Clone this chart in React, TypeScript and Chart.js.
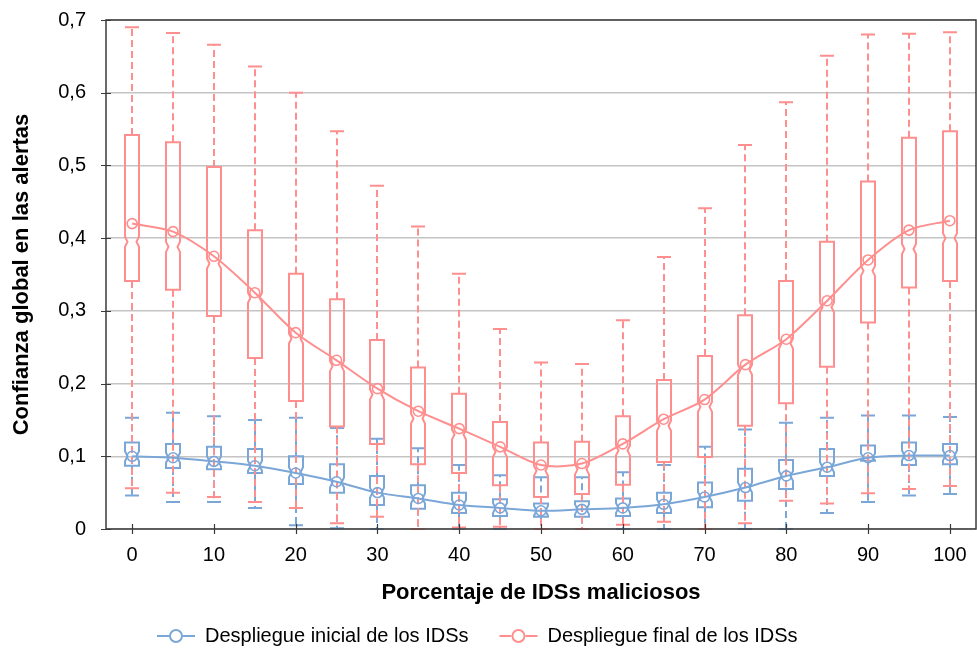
import { useEffect, useRef } from "react";
import { Chart, registerables } from "chart.js";

Chart.register(...registerables);

// ---------- data ----------
const categories = [0, 5, 10, 15, 20, 25, 30, 35, 40, 45, 50, 55, 60, 65, 70, 75, 80, 85, 90, 95, 100];
const xTickValues = [0, 10, 20, 30, 40, 50, 60, 70, 80, 90, 100];
const xTickLabels = ["0", "10", "20", "30", "40", "50", "60", "70", "80", "90", "100"];
const yTickValues = [0, 0.1, 0.2, 0.3, 0.4, 0.5, 0.6, 0.7];
const yTickLabels = ["0", "0,1", "0,2", "0,3", "0,4", "0,5", "0,6", "0,7"];

const seriesLabels = ["Despliegue inicial de los IDSs", "Despliegue final de los IDSs"];
const xTitle = "Porcentaje de IDSs maliciosos";
const yTitle = "Confianza global en las alertas";

// Despliegue inicial (blue)
const initialMax = [0.153, 0.160, 0.155, 0.150, 0.153, 0.139, 0.124, 0.111, 0.088, 0.074, 0.071, 0.071, 0.078, 0.088, 0.113, 0.137, 0.146, 0.153, 0.156, 0.156, 0.154];
const initialQ3 = [0.119, 0.117, 0.113, 0.110, 0.100, 0.089, 0.073, 0.060, 0.050, 0.041, 0.035, 0.038, 0.042, 0.050, 0.064, 0.083, 0.095, 0.110, 0.115, 0.119, 0.117];
const initialMedian = [0.100, 0.098, 0.093, 0.087, 0.078, 0.064, 0.050, 0.042, 0.033, 0.029, 0.025, 0.027, 0.029, 0.034, 0.044, 0.057, 0.073, 0.085, 0.099, 0.101, 0.101];
const initialQ1 = [0.087, 0.084, 0.082, 0.077, 0.062, 0.050, 0.033, 0.028, 0.022, 0.018, 0.017, 0.017, 0.018, 0.022, 0.030, 0.039, 0.055, 0.073, 0.094, 0.088, 0.089];
const initialMin = [0.046, 0.037, 0.037, 0.029, 0.005, 0.001, 0.000, 0.000, 0.000, 0.000, 0.000, 0.000, 0.000, 0.000, 0.000, 0.000, 0.000, 0.022, 0.037, 0.046, 0.048];
const initialMean = [0.100, 0.098, 0.093, 0.087, 0.077, 0.065, 0.050, 0.042, 0.033, 0.029, 0.025, 0.027, 0.029, 0.034, 0.044, 0.057, 0.073, 0.085, 0.098, 0.101, 0.101];

// Despliegue final (red)
const finalMax = [0.690, 0.682, 0.666, 0.636, 0.600, 0.547, 0.472, 0.416, 0.351, 0.275, 0.229, 0.227, 0.287, 0.374, 0.441, 0.528, 0.587, 0.651, 0.680, 0.681, 0.683];
const finalQ3 = [0.542, 0.532, 0.498, 0.411, 0.351, 0.316, 0.260, 0.222, 0.186, 0.147, 0.119, 0.120, 0.155, 0.205, 0.238, 0.294, 0.341, 0.395, 0.478, 0.538, 0.547];
const finalMedian = [0.395, 0.388, 0.365, 0.318, 0.262, 0.224, 0.185, 0.152, 0.130, 0.106, 0.080, 0.082, 0.108, 0.142, 0.168, 0.219, 0.255, 0.305, 0.355, 0.385, 0.400];
const finalQ1 = [0.341, 0.329, 0.293, 0.235, 0.176, 0.141, 0.117, 0.089, 0.077, 0.060, 0.044, 0.048, 0.061, 0.092, 0.099, 0.142, 0.173, 0.223, 0.284, 0.332, 0.341];
const finalMin = [0.056, 0.050, 0.044, 0.037, 0.029, 0.008, 0.017, 0.000, 0.002, 0.003, 0.000, 0.000, 0.006, 0.010, 0.000, 0.008, 0.039, 0.035, 0.049, 0.055, 0.059];
const finalMean = [0.420, 0.409, 0.375, 0.325, 0.270, 0.232, 0.193, 0.162, 0.138, 0.113, 0.088, 0.090, 0.117, 0.151, 0.178, 0.226, 0.261, 0.314, 0.370, 0.411, 0.424];

// ---------- style ----------
const BLUE = "#7ba7d8";
const RED = "#ff8e8e";
const FONT = "'Liberation Sans', Arial, Helvetica, sans-serif";

const boxSeries = [
  { color: BLUE, max: initialMax, q3: initialQ3, med: initialMedian, q1: initialQ1, min: initialMin },
  { color: RED, max: finalMax, q3: finalQ3, med: finalMedian, q1: finalQ1, min: finalMin },
];

const BOX_HALF = 7;
const NOTCH_HALF_W = 4.5;
const NOTCH_H = 5;

const boxPlugin = {
  id: "notchedBoxes",
  beforeDatasetsDraw(chart: any) {
    const { ctx, scales } = chart;
    const x = scales.x;
    const y = scales.y;
    ctx.save();
    ctx.lineWidth = 2;
    for (const s of boxSeries) {
      ctx.strokeStyle = s.color;
      for (let i = 0; i < categories.length; i++) {
        const cx = Math.round(x.getPixelForValue(categories[i]));
        const pMax = y.getPixelForValue(s.max[i]);
        const pQ3 = y.getPixelForValue(s.q3[i]);
        const pMed = y.getPixelForValue(s.med[i]);
        const pQ1 = y.getPixelForValue(s.q1[i]);
        const pMin = y.getPixelForValue(s.min[i]);
        ctx.setLineDash([7, 4]);
        ctx.beginPath();
        ctx.moveTo(cx, pQ3);
        ctx.lineTo(cx, pMax);
        ctx.moveTo(cx, pQ1);
        ctx.lineTo(cx, pMin);
        ctx.stroke();
        ctx.setLineDash([]);
        ctx.beginPath();
        ctx.moveTo(cx - BOX_HALF, pMax);
        ctx.lineTo(cx + BOX_HALF, pMax);
        ctx.moveTo(cx - BOX_HALF, pMin);
        ctx.lineTo(cx + BOX_HALF, pMin);
        ctx.stroke();
        const n = Math.max(1, Math.min(NOTCH_H, (pQ1 - pMed) * 0.9, (pMed - pQ3) * 0.9));
        ctx.beginPath();
        ctx.moveTo(cx - BOX_HALF, pQ3);
        ctx.lineTo(cx + BOX_HALF, pQ3);
        ctx.lineTo(cx + BOX_HALF, pMed - n);
        ctx.lineTo(cx + NOTCH_HALF_W, pMed);
        ctx.lineTo(cx + BOX_HALF, pMed + n);
        ctx.lineTo(cx + BOX_HALF, pQ1);
        ctx.lineTo(cx - BOX_HALF, pQ1);
        ctx.lineTo(cx - BOX_HALF, pMed + n);
        ctx.lineTo(cx - NOTCH_HALF_W, pMed);
        ctx.lineTo(cx - BOX_HALF, pMed - n);
        ctx.closePath();
        ctx.stroke();
      }
    }
    ctx.restore();
  },
};

const frameLegendPlugin = {
  id: "frameLegend",
  afterDraw(chart: any) {
    const { ctx, chartArea, scales } = chart;
    const { left, right, top, bottom } = chartArea;
    ctx.save();
    ctx.strokeStyle = "#3a3a3a";
    ctx.lineWidth = 1.5;
    ctx.strokeRect(left, top, right - left, bottom - top);
    ctx.beginPath();
    for (const v of xTickValues) {
      const px = Math.round(scales.x.getPixelForValue(v)) + 0.5;
      ctx.moveTo(px, bottom - 5);
      ctx.lineTo(px, bottom + 5);
    }
    for (const v of yTickValues) {
      const py = Math.round(scales.y.getPixelForValue(v)) + 0.5;
      ctx.moveTo(left - 5, py);
      ctx.lineTo(left + 5, py);
    }
    ctx.lineWidth = 1.2;
    ctx.stroke();

    const colors = [BLUE, RED];
    const ly = 636;
    let lx = 157;
    ctx.font = `20px ${FONT}`;
    ctx.textBaseline = "middle";
    ctx.textAlign = "left";
    for (let i = 0; i < seriesLabels.length; i++) {
      ctx.strokeStyle = colors[i];
      ctx.lineWidth = 2;
      ctx.beginPath();
      ctx.moveTo(lx, ly);
      ctx.lineTo(lx + 12, ly);
      ctx.moveTo(lx + 26, ly);
      ctx.lineTo(lx + 38, ly);
      ctx.stroke();
      ctx.beginPath();
      ctx.arc(lx + 19, ly, 6, 0, Math.PI * 2);
      ctx.stroke();
      ctx.fillStyle = "#000";
      ctx.fillText(seriesLabels[i], lx + 48, ly);
      lx += 48 + ctx.measureText(seriesLabels[i]).width + 31;
    }
    ctx.restore();
  },
};

export default function App() {
  const canvasRef = useRef<HTMLCanvasElement | null>(null);

  useEffect(() => {
    const canvas = canvasRef.current;
    if (!canvas) return;
    const chart = new Chart(canvas, {
      type: "line",
      data: {
        datasets: [
          {
            label: seriesLabels[0],
            data: categories.map((c, i) => ({ x: c, y: initialMean[i] })),
            borderColor: BLUE,
            backgroundColor: "rgba(0,0,0,0)",
            borderWidth: 2,
            pointStyle: "circle",
            pointRadius: 5,
            pointBorderWidth: 1.6,
            pointBackgroundColor: "rgba(0,0,0,0)",
            pointBorderColor: BLUE,
            tension: 0.3,
          },
          {
            label: seriesLabels[1],
            data: categories.map((c, i) => ({ x: c, y: finalMean[i] })),
            borderColor: RED,
            backgroundColor: "rgba(0,0,0,0)",
            borderWidth: 2,
            pointStyle: "circle",
            pointRadius: 5,
            pointBorderWidth: 1.6,
            pointBackgroundColor: "rgba(0,0,0,0)",
            pointBorderColor: RED,
            tension: 0.3,
          },
        ],
      },
      options: {
        responsive: false,
        animation: false,
        layout: { autoPadding: false, padding: { top: 20, right: 1, left: 0, bottom: 0 } },
        plugins: { legend: { display: false }, tooltip: { enabled: false } },
        scales: {
          x: {
            type: "linear",
            min: -3.2,
            max: 103.2,
            afterBuildTicks: (s: any) => {
              s.ticks = xTickValues.map((v) => ({ value: v }));
            },
            afterFit: (s: any) => {
              s.height = 120;
              s.paddingLeft = 0;
              s.paddingRight = 0;
            },
            grid: { display: false, drawTicks: false },
            border: { display: false },
            ticks: {
              padding: 14,
              color: "#000",
              font: { family: FONT, size: 20 },
              maxRotation: 0,
              autoSkip: false,
              callback: (v: any) => {
                const idx = xTickValues.indexOf(Number(v));
                return idx >= 0 ? xTickLabels[idx] : "";
              },
            },
            title: {
              display: true,
              text: xTitle,
              color: "#000",
              font: { family: FONT, size: 22, weight: "bold" },
              padding: { top: 0, bottom: 43 },
            },
          },
          y: {
            min: 0,
            max: 0.7,
            afterBuildTicks: (s: any) => {
              s.ticks = yTickValues.map((v) => ({ value: v }));
            },
            afterFit: (s: any) => {
              s.width = 106;
              s.paddingTop = 0;
              s.paddingBottom = 0;
            },
            grid: { color: "#c4c4c4", lineWidth: 1.5, drawTicks: false },
            border: { display: false },
            ticks: {
              padding: 20,
              color: "#000",
              font: { family: FONT, size: 20 },
              autoSkip: false,
              callback: (v: any) => {
                const idx = yTickValues.findIndex((t) => Math.abs(t - Number(v)) < 1e-9);
                return idx >= 0 ? yTickLabels[idx] : "";
              },
            },
            title: {
              display: true,
              text: yTitle,
              color: "#000",
              font: { family: FONT, size: 22, weight: "bold" },
              padding: { top: 9, bottom: 0 },
            },
          },
        },
      },
      plugins: [boxPlugin, frameLegendPlugin],
    } as any);
    return () => chart.destroy();
  }, []);

  return (
    <div style={{ position: "fixed", left: 0, top: 0, width: 977, height: 649, background: "#fff" }}>
      <canvas ref={canvasRef} width={977} height={649} style={{ display: "block" }} />
    </div>
  );
}
